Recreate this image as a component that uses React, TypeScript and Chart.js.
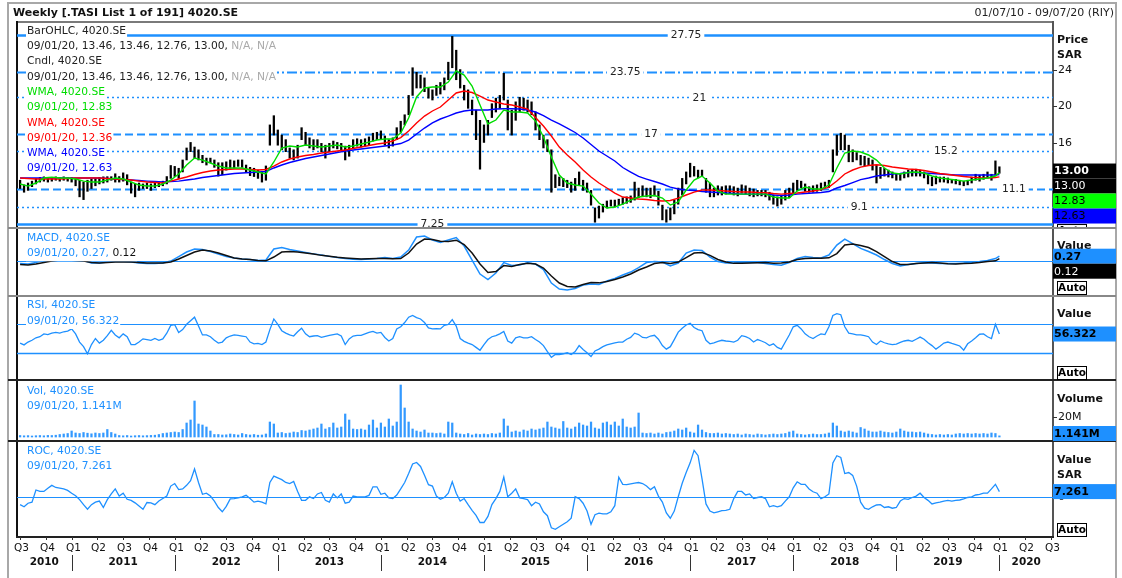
import React, { useEffect, useRef } from "react";
import { Chart, registerables } from "chart.js";

Chart.register(...registerables);

const FONT = '"DejaVu Sans", Verdana, sans-serif';
const BLUE = "#1e90ff";
const FAST_C = "#00dd00";
const MID_C = "#ff0000";
const SLOW_C = "#0000ff";

// ---------- texts / axis ----------
const TITLE = "Weekly [.TASI List 1 of 191] 4020.SE";
const RANGE_TEXT = "01/07/10 - 09/07/20 (RIY)";
const TICKER = "4020.SE";
const LAST_DATE = "09/01/20";
const QUARTER_LABELS = ["Q1", "Q2", "Q3", "Q4"];
const YEAR_LABELS = ["2010", "2011", "2012", "2013", "2014", "2015", "2016", "2017", "2018", "2019", "2020"];
const FIRST_BAR_YEAR = 2010.5; // first bi-weekly sample (Jul 2010)
const SAMPLES_PER_YEAR = 26;
const X_MIN = 2010.47;
const X_MAX = 2020.52;

// ---------- price (bi-weekly high / low) ----------
const PRICE_HIGH = [
  12.0, 11.5, 11.7, 11.9, 12.2, 12.3, 12.4, 12.3, 12.3, 12.4,
  12.3, 12.4, 12.3, 12.3, 12.2, 12.0, 11.8, 12.0, 12.1, 12.2,
  12.3, 12.4, 12.6, 13.0, 12.7, 12.4, 12.8, 12.6, 11.8, 11.6,
  11.7, 11.6, 11.7, 11.6, 11.7, 11.8, 11.9, 12.4, 13.6, 13.5,
  13.3, 14.2, 15.5, 16.1, 15.6, 15.3, 14.7, 14.4, 14.4, 14.2,
  13.9, 13.9, 14.0, 14.2, 14.1, 14.2, 14.2, 13.65, 13.4, 13.3,
  13.1, 12.9, 13.55, 18.0, 19.0, 17.45, 16.9, 16.4, 15.5, 15.3,
  15.8, 17.7, 17.2, 16.6, 16.4, 16.4, 16.0, 15.8, 16.0, 16.25,
  16.1, 16.0, 15.7, 15.8, 16.4, 16.5, 16.4, 16.5, 16.7, 17.1,
  17.2, 17.35, 16.8, 16.4, 16.6, 17.7, 18.4, 19.1, 21.2, 24.2,
  23.7, 23.4, 23.1, 22.0, 21.8, 22.3, 22.6, 23.1, 24.8, 27.6,
  26.1, 24.0, 22.3, 21.8, 20.7, 19.6, 18.5, 18.0, 18.5, 20.3,
  20.9, 21.2, 23.6, 20.7, 19.6, 20.5, 21.0, 20.9, 20.7, 20.5,
  19.4, 18.0, 16.9, 16.4, 15.3, 12.6, 12.35, 12.2, 12.0, 11.8,
  12.2, 12.9, 12.0, 11.7, 10.9, 9.0, 9.2, 9.4, 9.75, 9.85,
  9.85, 9.95, 10.1, 10.2, 10.3, 11.8, 11.15, 11.4, 11.15, 11.15,
  11.4, 10.8, 9.3, 8.8, 9.0, 9.85, 11.15, 12.2, 12.9, 13.85,
  13.5, 13.1, 13.1, 12.2, 11.7, 11.15, 11.4, 11.3, 11.4, 11.4,
  11.3, 11.15, 11.5, 11.4, 11.15, 11.05, 10.9, 10.9, 10.9, 10.7,
  10.4, 10.2, 10.3, 10.9, 11.15, 11.7, 12.0, 11.9, 11.6, 11.3,
  11.4, 11.5, 11.7, 11.8, 12.0, 15.3, 16.9, 17.1, 16.9, 15.8,
  15.3, 15.0, 14.7, 14.6, 14.4, 14.2, 13.65, 13.4, 13.3, 13.1,
  12.9, 12.65, 12.75, 12.9, 13.1, 13.1, 13.2, 13.1, 12.9, 12.55,
  12.35, 12.45, 12.35, 12.35, 12.25, 12.1, 12.1, 12.0, 11.9, 12.0,
  12.35, 12.65, 12.55, 12.65, 12.9, 12.65, 14.1, 13.46,
];
const PRICE_LOW = [
  11.1, 10.7, 10.9, 11.3, 11.6, 11.8, 11.9, 11.8, 11.9, 12.0,
  11.9, 12.0, 11.9, 11.8, 11.4, 10.2, 9.9, 10.8, 11.1, 11.4,
  11.6, 11.7, 11.8, 12.0, 11.8, 11.8, 11.9, 11.5, 10.6, 10.2,
  10.9, 11.1, 11.1, 10.9, 11.2, 11.3, 11.4, 11.6, 12.2, 12.4,
  12.2, 12.9, 14.2, 15.1, 14.4, 14.2, 13.9, 13.65, 13.9, 13.4,
  12.45, 12.6, 13.1, 13.3, 13.3, 13.5, 13.4, 12.9, 12.5, 12.4,
  12.2, 11.8, 12.0, 15.8, 16.9, 15.8, 15.3, 15.1, 14.4, 14.2,
  14.4, 16.4, 15.8, 15.5, 15.3, 15.5, 15.1, 14.4, 15.1, 15.5,
  15.4, 15.3, 14.2, 14.6, 15.5, 15.7, 15.6, 15.7, 15.8, 16.25,
  16.4, 16.5, 15.8, 15.5, 15.7, 16.4, 17.2, 18.0, 19.1, 21.2,
  22.0, 22.0, 21.6, 20.9, 20.7, 21.2, 21.35, 21.8, 22.9, 24.2,
  22.9, 22.0, 20.7, 19.8, 19.1, 16.4, 13.2, 16.1, 16.9, 18.8,
  19.4, 19.8, 20.7, 17.45, 16.9, 18.5, 19.4, 19.6, 19.4, 19.1,
  17.45, 16.4, 15.5, 15.1, 10.7, 11.2, 11.4, 11.3, 11.2, 10.7,
  10.9, 11.5, 10.9, 10.7, 9.3, 7.45, 7.9, 8.55, 9.0, 9.2,
  9.1, 9.3, 9.4, 9.5, 9.6, 9.85, 10.1, 10.3, 10.2, 10.1,
  10.3, 9.3, 7.7, 7.45, 7.7, 8.35, 9.4, 10.4, 11.6, 12.35,
  12.45, 12.25, 12.45, 10.7, 10.2, 10.2, 10.4, 10.4, 10.5, 10.6,
  10.4, 10.3, 10.6, 10.5, 10.3, 10.2, 10.3, 10.3, 10.2, 9.85,
  9.4, 9.2, 9.4, 9.85, 10.1, 10.5, 10.9, 11.2, 10.8, 10.7,
  10.7, 10.8, 10.9, 11.2, 11.2, 12.9, 14.7, 15.3, 15.3, 14.0,
  14.0, 14.2, 13.65, 13.55, 13.65, 13.1, 11.7, 12.2, 12.45, 12.35,
  12.25, 12.0, 12.0, 12.25, 12.35, 12.45, 12.45, 12.45, 12.25, 11.6,
  11.4, 11.6, 11.8, 11.8, 11.7, 11.7, 11.6, 11.5, 11.4, 11.5,
  11.7, 12.0, 11.9, 12.1, 12.25, 12.0, 12.55, 12.76,
];
const LAST_OHLC = [13.46, 13.46, 12.76, 13.0];

// ---------- weighted moving averages (4-weekly samples) ----------
const WMA_FAST = [
  11.59, 11.37, 11.70, 12.24, 12.35, 12.24, 12.24, 12.13, 11.91, 11.81,
  11.81, 12.02, 12.24, 12.13, 11.81, 11.48, 11.37, 11.37, 11.59, 12.02,
  12.68, 13.65, 14.41, 14.19, 13.87, 13.54, 13.33, 13.33, 13.33, 13.11,
  12.89, 12.68, 13.98, 15.49, 15.71, 15.60, 15.82, 15.71, 15.60, 15.71,
  15.82, 15.60, 15.71, 15.93, 16.14, 16.36, 16.47, 16.47, 17.12, 18.75,
  21.03, 22.00, 22.11, 22.11, 22.65, 23.85, 23.41, 22.22, 20.16, 18.10,
  18.53, 19.62, 19.40, 19.40, 19.29, 18.42, 16.69, 14.52, 12.57, 11.70,
  11.48, 11.37, 10.50, 9.53, 8.99, 9.10, 9.42, 9.85, 10.18, 10.29,
  10.34, 10.07, 9.31, 9.64, 10.94, 12.02, 12.46, 11.70, 10.83, 10.50,
  10.50, 10.50, 10.50, 10.50, 10.50, 10.18, 10.07, 10.07, 10.83, 11.26,
  11.05, 11.05, 11.48, 13.33, 14.95, 15.17, 15.06, 14.74, 14.19, 13.33,
  12.78, 12.68, 12.84, 12.89, 12.78, 12.46, 12.24, 12.13, 12.02, 11.91,
  12.02, 12.13, 12.24, 12.46, 12.83,
];
const WMA_MID = [
  12.24, 12.19, 12.13, 12.13, 12.13, 12.13, 12.19, 12.24, 12.24, 12.24,
  12.24, 12.19, 12.13, 12.08, 12.02, 11.91, 11.81, 11.75, 11.70, 11.91,
  12.13, 12.35, 12.62, 12.84, 13.00, 13.11, 13.17, 13.22, 13.22, 13.17,
  13.11, 13.17, 13.54, 13.98, 14.30, 14.52, 14.69, 14.79, 14.95, 15.06,
  15.17, 15.28, 15.44, 15.60, 15.77, 15.93, 16.04, 16.25, 16.63, 17.34,
  18.21, 18.96, 19.51, 19.94, 20.70, 21.46, 21.68, 21.51, 21.13, 20.70,
  20.48, 20.27, 20.16, 19.94, 19.72, 18.80, 17.88, 16.80, 15.60, 14.74,
  13.98, 13.11, 12.35, 11.70, 11.16, 10.61, 10.18, 10.07, 9.96, 9.91,
  9.80, 9.75, 9.80, 10.07, 10.40, 10.72, 10.94, 10.94, 10.89, 10.83,
  10.78, 10.72, 10.72, 10.67, 10.64, 10.56, 10.50, 10.56, 10.61, 10.72,
  10.83, 10.99, 11.26, 11.91, 12.68, 13.11, 13.43, 13.60, 13.68, 13.60,
  13.43, 13.33, 13.22, 13.17, 13.06, 12.89, 12.73, 12.62, 12.52, 12.41,
  12.32, 12.27, 12.24, 12.30, 12.36,
];
const WMA_SLOW = [
  12.24, 12.24, 12.24, 12.24, 12.24, 12.24, 12.24, 12.24, 12.24, 12.24,
  12.24, 12.19, 12.13, 12.08, 12.02, 11.97, 11.91, 11.86, 11.81, 11.86,
  11.91, 12.02, 12.13, 12.30, 12.41, 12.52, 12.62, 12.73, 12.78, 12.84,
  12.89, 12.95, 13.33, 13.65, 13.92, 14.14, 14.36, 14.52, 14.69, 14.85,
  15.01, 15.17, 15.28, 15.39, 15.49, 15.60, 15.71, 15.82, 15.98, 16.36,
  17.01, 17.66, 18.21, 18.64, 18.96, 19.29, 19.51, 19.62, 19.62, 19.62,
  19.72, 19.76, 19.76, 19.72, 19.62, 19.40, 19.00, 18.53, 18.10, 17.66,
  17.18, 16.58, 15.88, 15.17, 14.63, 14.09, 13.38, 12.89, 12.41, 12.13,
  11.86, 11.59, 11.26, 11.05, 10.94, 10.89, 10.78, 10.72, 10.67, 10.61,
  10.56, 10.50, 10.50, 10.50, 10.50, 10.40, 10.34, 10.40, 10.50, 10.56,
  10.61, 10.67, 10.78, 11.16, 11.43, 11.75, 12.07, 12.24, 12.46, 12.57,
  12.68, 12.73, 12.84, 12.84, 12.78, 12.73, 12.68, 12.62, 12.57, 12.57,
  12.57, 12.57, 12.57, 12.57, 12.63,
];

// ---------- MACD (4-weekly samples) ----------
const MACD_LINE = [
  -0.17, -0.20, -0.11, 0.04, 0.10, 0.13, 0.10, 0.07, 0.01, -0.14,
  -0.14, -0.08, -0.05, -0.05, -0.08, -0.14, -0.17, -0.17, -0.14, -0.02,
  0.25, 0.52, 0.70, 0.67, 0.55, 0.40, 0.25, 0.16, 0.10, 0.07,
  0.01, 0.04, 0.70, 0.79, 0.67, 0.58, 0.49, 0.41, 0.34, 0.26,
  0.19, 0.13, 0.09, 0.07, 0.10, 0.13, 0.19, 0.13, 0.22, 0.64,
  1.42, 1.48, 1.24, 1.09, 1.24, 1.39, 0.88, 0.04, -0.80, -1.13,
  -0.74, -0.11, -0.29, -0.26, -0.13, -0.20, -0.53, -1.34, -1.70, -1.76,
  -1.67, -1.46, -1.40, -1.43, -1.22, -1.07, -0.86, -0.68, -0.41, -0.11,
  -0.05, -0.08, -0.32, -0.14, 0.46, 0.64, 0.62, 0.22, -0.05, -0.14,
  -0.14, -0.11, -0.11, -0.11, -0.17, -0.23, -0.27, -0.11, 0.13, 0.25,
  0.19, 0.16, 0.34, 0.94, 1.30, 1.03, 0.74, 0.55, 0.34, 0.07,
  -0.17, -0.32, -0.23, -0.17, -0.13, -0.14, -0.17, -0.17, -0.17, -0.14,
  -0.09, -0.05, 0.01, 0.13, 0.27,
];
const MACD_SIGNAL = [
  -0.23, -0.26, -0.20, -0.11, -0.02, 0.04, 0.04, 0.01, -0.02, -0.11,
  -0.14, -0.11, -0.08, -0.08, -0.08, -0.11, -0.14, -0.14, -0.14, -0.08,
  0.10, 0.31, 0.52, 0.64, 0.58, 0.46, 0.31, 0.16, 0.10, 0.07,
  0.01, -0.01, 0.22, 0.52, 0.55, 0.52, 0.46, 0.40, 0.32, 0.26,
  0.20, 0.16, 0.13, 0.10, 0.11, 0.13, 0.13, 0.11, 0.13, 0.46,
  1.00, 1.30, 1.27, 1.17, 1.15, 1.23, 0.97, 0.46, -0.20, -0.71,
  -0.65, -0.29, -0.35, -0.23, -0.16, -0.20, -0.44, -0.92, -1.34, -1.55,
  -1.58, -1.43, -1.31, -1.33, -1.25, -1.13, -0.98, -0.80, -0.56, -0.38,
  -0.17, -0.11, -0.17, -0.08, 0.19, 0.46, 0.49, 0.32, 0.07, -0.08,
  -0.16, -0.16, -0.14, -0.13, -0.11, -0.15, -0.14, -0.08, 0.07, 0.13,
  0.15, 0.15, 0.17, 0.43, 0.94, 1.00, 0.91, 0.79, 0.55, 0.25,
  -0.05, -0.23, -0.23, -0.17, -0.14, -0.11, -0.14, -0.19, -0.20, -0.17,
  -0.15, -0.11, -0.05, -0.01, 0.12,
];

// ---------- RSI (bi-weekly) ----------
const RSI = [
  43.5, 41, 45, 47.5, 51, 52.5, 56.5, 55.5, 57.5, 58.5,
  57.5, 59.5, 60.5, 63.5, 56.5, 45, 38.5, 28.5, 41.5, 50,
  43.5, 47.5, 54, 61.5, 55, 51, 56.5, 52.5, 41.5, 41.5,
  45, 49.5, 48.5, 47.5, 50, 47.5, 49.5, 57.5, 68.5, 69.5,
  58.5, 62.5, 70, 75, 80, 67.5, 55, 55, 52.5, 47.5,
  43.5, 45, 51, 53.5, 55, 54.5, 53.5, 52.5, 45, 42.5,
  43, 41.5, 45, 62.5, 77.5, 70, 61, 57.5, 55, 53.5,
  59.5, 64.5, 56.5, 52.5, 53.5, 54, 51.5, 53, 54.5, 55.5,
  56.5, 53.5, 41.5, 49.5, 53.5, 54.5, 54.5, 56.5, 58.5, 60,
  57.5, 58.5, 51.5, 46.5, 50, 63.5, 66.5, 72.5, 80, 82.5,
  79.5, 77.5, 72.5, 65, 63.5, 64, 63.5, 68.5, 70, 76.5,
  67.5, 50, 46, 43.5, 41.5, 37.5, 33.5, 41.5, 48.5, 52.5,
  54, 56.5, 60, 46.5, 43.5, 51, 52.5, 51, 51, 52.5,
  48.5, 45, 40, 31.5, 23.5, 27.5, 27.5, 28.5, 30, 27.5,
  31.5, 40, 34.5, 30, 24.5, 32.5, 35, 38.5, 41, 42.5,
  44, 45, 45, 49, 51.5, 57.5, 55.5, 51.5, 51, 53.5,
  54.5, 49, 40, 35, 38.5, 48.5, 59, 64.5, 69, 71.5,
  65.5, 62.5, 61, 47.5, 42.5, 44, 46, 47.5, 46.5, 46,
  45, 47.5, 54, 52.5, 50, 45, 48.5, 46.5, 44, 40,
  42.5, 37.5, 35, 45, 55, 66.5, 68.5, 63.5, 56.5, 52.5,
  50, 53.5, 56.5, 55.5, 66.5, 82.5, 85, 83.5, 66.5, 57.5,
  56.5, 55, 55, 54, 52.5, 45, 41.5, 46.5, 44, 42.5,
  41.5, 42, 44.5, 46.5, 47.5, 46, 49, 52, 49, 44,
  40, 35, 39, 43.5, 45, 43, 41.5, 39.5, 33.5, 42.5,
  46.5, 51, 56, 56.5, 52.5, 50, 70, 56.322,
];
const RSI_BANDS = [70, 30];

// ---------- Volume, millions (bi-weekly) ----------
const VOLUME = [
  1.5, 1.2, 1.4, 1.0, 1.3, 1.5, 1.2, 1.6, 1.5, 1.8,
  2.5, 3.0, 3.5, 6.0, 4.0, 3.5, 4.5, 3.8, 3.2, 4.0,
  3.5, 4.0, 7.5, 4.5, 3.0, 1.5, 1.2, 1.5, 1.0, 1.3,
  1.5, 1.2, 1.4, 1.6, 1.8, 2.5, 3.5, 4.0, 4.5, 5.0,
  4.5, 7.5, 14, 17, 36, 13, 12, 10, 6.0, 2.5,
  2.5, 2.0, 2.2, 3.0, 2.5, 2.0, 3.5, 2.5, 2.0, 2.5,
  1.8, 2.0, 3.0, 15, 13, 4.0, 4.5, 3.5, 4.0, 5.0,
  4.5, 6.5, 6.0, 7.0, 8.0, 9.0, 13, 8.0, 9.5, 14,
  9.0, 10, 23, 17, 8.0, 7.5, 8.0, 7.0, 12, 17,
  9.0, 14, 10, 18, 11, 15, 52, 29, 15, 8.0,
  6.0, 5.0, 7.0, 4.0, 4.0, 3.5, 4.0, 3.0, 15, 14,
  4.0, 3.0, 2.5, 3.5, 2.0, 3.0, 2.5, 3.0, 2.5, 3.5,
  3.0, 4.0, 18, 11, 5.0, 6.0, 5.0, 7.0, 6.0, 8.0,
  7.0, 8.0, 9.0, 15, 10, 9.0, 8.0, 15.5, 9.0, 8.0,
  10, 14, 12, 11, 15, 9.0, 8.0, 14, 15, 12,
  15, 11, 18, 10, 9.0, 10, 24, 4.0, 3.5, 4.0,
  3.0, 4.0, 3.0, 4.5, 5.0, 6.0, 8.0, 7.0, 9.0, 5.0,
  4.0, 12, 7.0, 4.5, 3.5, 3.5, 4.0, 3.0, 3.5, 3.0,
  2.5, 3.0, 2.0, 3.0, 2.5, 2.0, 3.0, 2.5, 2.0, 2.5,
  3.0, 2.5, 3.0, 3.5, 5.0, 6.0, 3.0, 2.5, 2.0, 2.5,
  3.0, 2.5, 2.5, 3.0, 4.0, 14, 11, 6.0, 5.0, 6.0,
  5.0, 4.0, 9.5, 8.0, 6.0, 5.0, 5.0, 6.0, 5.0, 4.5,
  4.0, 5.0, 8.0, 6.0, 5.0, 5.0, 4.5, 5.0, 4.0, 3.0,
  2.5, 2.0, 2.5, 2.0, 2.5, 2.0, 3.0, 3.5, 3.0, 3.5,
  3.0, 3.5, 3.0, 3.5, 3.0, 4.0, 3.5, 1.141,
];
const VOLUME_TICKS = [20];

// ---------- ROC (bi-weekly) ----------
const ROC = [
  -11, -14, -9, -7.5, 9.5, 7.5, 7.5, 12, 16, 13,
  12, 11, 9, 5, 1.5, -4, -11, -17.5, -11, -7.5,
  -6, -15, -4, 4, 11, 1, 5, -3.5, -5, -8.5,
  -13, -17.5, -8, -8.5, -11, -6, -2.5, 1, 15, 18.5,
  10, 11, 16, 22.5, 39, 20, 3.5, 5, 1, -6,
  -15, -21, -13.5, -3, -2.5, -1.5, 0, 2, -2.5, -7.5,
  -6, -7.5, -10, 20, 29, 26.5, 24, 20, 18.5, 21.5,
  7.5, -5, -5, 0, -2.5, 4, 6, -5, -7.5, 4,
  -1.5, 4, -9, -7.5, 1, 0, 0, 0, 2, 14,
  14, 3.5, 5, -1.5, -2.5, 2.5, 11, 20, 32.5, 46,
  48, 42.5, 30, 17, 15, 1, -3.5, -1, 5, 21,
  5, -6, -2.5, -11, -19, -26, -36, -36, -27.5, -11,
  -2.5, 7.5, 27.5, 0, 5, 11, -1.5, -2.5, -4, -12.5,
  -7.5, -10, -21, -26.5, -43.5, -45.5, -42, -38.5, -35, -30,
  0, -2.5, -9, -20, -38.5, -25, -23, -24, -24, -21,
  -12.5, 27.5, 17.5, 17, 18, 19, 20, 18.5, 15, 10,
  14, 1, -7.5, -22.5, -30, -20, 0, 19, 34, 47.5,
  65, 57.5, 25, -10, -20, -22.5, -21, -19.5, -19, -17.5,
  -2.5, 7.5, 7.5, 2.5, 4, -2.5, -1, 0, -2.5, -14,
  -12.5, -14, -12.5, -6, 0, 12.5, 21, 17.5, 17.5, 11,
  7, 5, -2.5, 0, 4, 47.5, 57.5, 55, 32.5, 34,
  30, 15, -7.5, -16, -17.5, -14, -11.5, -11, -15, -14,
  -16, -15, -6, -2.5, -3.5, -1, 1, 5, -1, -5,
  -10, -8.5, -7.5, -6, -5, -6, -5, -4.5, -3, -1,
  0, 2.5, 3.5, 5, 5, 11, 17.5, 7.261,
];

// ---------- price levels ----------
const LEVELS = [27.75, 23.75, 21, 17, 15.2, 11.1, 9.1, 7.25];
const PRICE_TICKS = [24, 20, 16];

// ---------- styling config (not data) ----------
const LEVEL_DASHES = [[], [10, 3, 2, 3], [2, 3], [8, 4], [2, 3], [8, 4], [2, 3], []];
const LEVEL_WIDTHS = [2.5, 2, 1.5, 2, 1.5, 2, 1.5, 2.5];
const LEVEL_LABEL_AT = [2016.96, 2016.37, 2017.09, 2016.62, 2019.48, 2020.14, 2018.64, 2014.5];

const last = (a: number[]) => a[a.length - 1];
const biPoints = (arr: number[]) => arr.map((v, i) => ({ x: FIRST_BAR_YEAR + i / SAMPLES_PER_YEAR, y: v }));
const monthPoints = (arr: number[]) =>
  arr.map((v, j) => ({ x: FIRST_BAR_YEAR + Math.min(2 * j, PRICE_HIGH.length - 1) / SAMPLES_PER_YEAR, y: v }));

function baseOptions(yMin: number, yMax: number, padTop: number, padBottom: number): any {
  return {
    responsive: false,
    animation: false,
    devicePixelRatio: 1,
    events: [],
    layout: { padding: { left: 17, right: 69, top: padTop, bottom: padBottom } },
    plugins: { legend: { display: false }, tooltip: { enabled: false }, title: { display: false } },
    scales: {
      x: { type: "linear", min: X_MIN, max: X_MAX, display: false, offset: false },
      y: { type: "linear", min: yMin, max: yMax, display: false },
    },
  };
}

type Seg = { t: string; c: string };

function legendPlugin(lines: Seg[][], y0: number, dy: number) {
  return {
    id: "legendText",
    afterDatasetsDraw(chart: any) {
      const ctx = chart.ctx;
      ctx.save();
      ctx.font = `10.7px ${FONT}`;
      ctx.textBaseline = "middle";
      ctx.textAlign = "left";
      lines.forEach((segs, k) => {
        const y = y0 + k * dy;
        let x = 27;
        const total = segs.reduce((s, sg) => s + ctx.measureText(sg.t).width, 0);
        ctx.fillStyle = "#fff";
        ctx.fillRect(x - 1, y - dy / 2, total + 2, dy);
        segs.forEach((sg) => {
          ctx.fillStyle = sg.c;
          ctx.fillText(sg.t, x, y);
          x += ctx.measureText(sg.t).width;
        });
      });
      ctx.restore();
    },
  };
}

function hLinesPlugin(values: number[], widths: number[]) {
  return {
    id: "hLines",
    beforeDatasetsDraw(chart: any) {
      const { ctx, chartArea } = chart;
      const ys = chart.scales.y;
      ctx.save();
      ctx.strokeStyle = BLUE;
      values.forEach((v, k) => {
        const y = Math.round(ys.getPixelForValue(v)) + 0.5;
        ctx.lineWidth = widths[k];
        ctx.beginPath();
        ctx.moveTo(chartArea.left, y);
        ctx.lineTo(chartArea.right, y);
        ctx.stroke();
      });
      ctx.restore();
    },
  };
}

type Box = { value: number; text: string; bg: string; fg: string; bold: boolean };
type RightCfg = { titles: string[]; ticks: { value: number; label: string }[]; boxes: Box[]; auto: string };

function rightPlugin(cfg: RightCfg) {
  return {
    id: "rightAxis",
    afterDraw(chart: any) {
      const { ctx, chartArea } = chart;
      const ys = chart.scales.y;
      const X0 = chartArea.right;
      ctx.save();
      ctx.textBaseline = "middle";
      ctx.textAlign = "left";
      ctx.fillStyle = "#111";
      ctx.font = `bold 11px ${FONT}`;
      cfg.titles.forEach((t, k) => ctx.fillText(t, X0 + 4, chartArea.top + 18 + k * 15.5));
      ctx.font = `11px ${FONT}`;
      ctx.strokeStyle = "#333";
      ctx.lineWidth = 1;
      cfg.ticks.forEach((tk) => {
        const y = Math.round(ys.getPixelForValue(tk.value)) + 0.5;
        ctx.beginPath();
        ctx.moveTo(X0, y);
        ctx.lineTo(X0 + 4, y);
        ctx.stroke();
        ctx.fillStyle = "#111";
        ctx.fillText(tk.label, X0 + 5, y);
      });
      let cursor = -Infinity;
      cfg.boxes.forEach((b) => {
        let y0 = ys.getPixelForValue(b.value) - 7.5;
        if (y0 < cursor) y0 = cursor;
        if (y0 + 15 > chartArea.bottom) y0 = chartArea.bottom - 15;
        ctx.fillStyle = b.bg;
        ctx.fillRect(X0, y0, 63, 15);
        ctx.fillStyle = b.fg;
        ctx.font = `${b.bold ? "bold " : ""}11px ${FONT}`;
        ctx.fillText(b.text, X0 + 1, y0 + 8);
        cursor = y0 + 15;
      });
      if (cfg.auto !== "none") {
        const y0 = cfg.auto === "stack" ? cursor + 0.5 : chartArea.bottom - 14;
        ctx.fillStyle = "#fff";
        ctx.fillRect(X0 + 4.5, y0, 29, 13);
        ctx.strokeStyle = "#000";
        ctx.strokeRect(X0 + 4.5, y0 + 0.5, 29, 13);
        ctx.fillStyle = "#000";
        ctx.font = `bold 10.5px ${FONT}`;
        ctx.textAlign = "center";
        ctx.fillText("Auto", X0 + 19, y0 + 7.5);
      }
      ctx.restore();
    },
  };
}

const levelsPlugin = {
  id: "levels",
  beforeDatasetsDraw(chart: any) {
    const { ctx, chartArea } = chart;
    const xs = chart.scales.x;
    const ys = chart.scales.y;
    ctx.save();
    ctx.beginPath();
    ctx.rect(chartArea.left, chartArea.top, chartArea.right - chartArea.left, chartArea.bottom - chartArea.top);
    ctx.clip();
    ctx.strokeStyle = BLUE;
    LEVELS.forEach((lv, k) => {
      const y = Math.round(ys.getPixelForValue(lv)) + 0.5;
      ctx.lineWidth = LEVEL_WIDTHS[k];
      ctx.setLineDash(LEVEL_DASHES[k]);
      ctx.beginPath();
      ctx.moveTo(chartArea.left, y);
      ctx.lineTo(chartArea.right, y);
      ctx.stroke();
    });
    ctx.setLineDash([]);
    ctx.font = `10.7px ${FONT}`;
    ctx.textAlign = "center";
    ctx.textBaseline = "middle";
    LEVELS.forEach((lv, k) => {
      const y = ys.getPixelForValue(lv);
      const x = xs.getPixelForValue(LEVEL_LABEL_AT[k]);
      const t = String(lv);
      const w = ctx.measureText(t).width;
      ctx.fillStyle = "#fff";
      ctx.fillRect(x - w / 2 - 3, y - 6, w + 6, 12);
      ctx.fillStyle = "#222";
      ctx.fillText(t, x, y + 0.5);
    });
    ctx.restore();
  },
};

const titlePlugin = {
  id: "titleText",
  afterDraw(chart: any) {
    const ctx = chart.ctx;
    ctx.save();
    ctx.textBaseline = "middle";
    ctx.fillStyle = "#111";
    ctx.font = `bold 11px ${FONT}`;
    ctx.textAlign = "left";
    ctx.fillText(TITLE, 13, 13);
    ctx.font = `11px ${FONT}`;
    ctx.textAlign = "right";
    ctx.fillStyle = "#222";
    ctx.fillText(RANGE_TEXT, 1114, 13);
    ctx.restore();
  },
};

const timeAxisPlugin = {
  id: "timeAxis",
  afterDraw(chart: any) {
    const { ctx, chartArea } = chart;
    const xs = chart.scales.x;
    const b = chartArea.bottom;
    ctx.save();
    ctx.strokeStyle = "#333";
    ctx.fillStyle = "#111";
    ctx.lineWidth = 1;
    ctx.textAlign = "center";
    ctx.textBaseline = "middle";
    ctx.font = `10.5px ${FONT}`;
    const firstYear = Number(YEAR_LABELS[0]);
    YEAR_LABELS.forEach((_, yi) => {
      const year = firstYear + yi;
      QUARTER_LABELS.forEach((ql, qi) => {
        const v = year + qi * 0.25;
        if (v < X_MIN || v > X_MAX) return;
        const x = Math.round(xs.getPixelForValue(v)) + 0.5;
        ctx.beginPath();
        ctx.moveTo(x, b);
        ctx.lineTo(x, b + 3);
        ctx.stroke();
        ctx.fillText(ql, x + 1, b + 11);
      });
    });
    ctx.font = `bold 10.5px ${FONT}`;
    YEAR_LABELS.forEach((ys, yi) => {
      const year = firstYear + yi;
      const a = Math.max(X_MIN, year);
      const e = Math.min(X_MAX, year + 1);
      const xc = (xs.getPixelForValue(a) + xs.getPixelForValue(e)) / 2;
      ctx.fillText(ys, xc, b + 25);
      if (year > X_MIN) {
        const x = Math.round(xs.getPixelForValue(year)) + 0.5;
        ctx.beginPath();
        ctx.moveTo(x, b + 18);
        ctx.lineTo(x, b + 34);
        ctx.stroke();
      }
    });
    ctx.restore();
  },
};

const lineDs = (data: any[], color: string, width: number, order: number) => ({
  type: "line",
  data,
  borderColor: color,
  borderWidth: width,
  pointRadius: 0,
  fill: false,
  tension: 0,
  order,
});

function priceConfig(): any {
  const bars = PRICE_HIGH.map((h, i) => ({ x: FIRST_BAR_YEAR + i / SAMPLES_PER_YEAR, y: [PRICE_LOW[i], h] }));
  const ohlc = LAST_OHLC.map((v) => v.toFixed(2)).join(", ");
  const legend: Seg[][] = [
    [{ t: `BarOHLC, ${TICKER}`, c: "#222" }],
    [{ t: `${LAST_DATE}, ${ohlc}, `, c: "#222" }, { t: "N/A, N/A", c: "#aaa" }],
    [{ t: `Cndl, ${TICKER}`, c: "#222" }],
    [{ t: `${LAST_DATE}, ${ohlc}, `, c: "#222" }, { t: "N/A, N/A", c: "#aaa" }],
    [{ t: `WMA, ${TICKER}`, c: FAST_C }],
    [{ t: `${LAST_DATE}, ${last(WMA_FAST).toFixed(2)}`, c: FAST_C }],
    [{ t: `WMA, ${TICKER}`, c: MID_C }],
    [{ t: `${LAST_DATE}, ${last(WMA_MID).toFixed(2)}`, c: MID_C }],
    [{ t: `WMA, ${TICKER}`, c: SLOW_C }],
    [{ t: `${LAST_DATE}, ${last(WMA_SLOW).toFixed(2)}`, c: SLOW_C }],
  ];
  return {
    type: "bar",
    data: {
      datasets: [
        lineDs(monthPoints(WMA_FAST), FAST_C, 1.4, 0),
        lineDs(monthPoints(WMA_MID), MID_C, 1.4, 1),
        lineDs(monthPoints(WMA_SLOW), SLOW_C, 1.4, 2),
        { type: "bar", data: bars, backgroundColor: "#000", barThickness: 1.6, order: 3 },
      ],
    },
    options: baseOptions(6.93, 29.16, 22, 0),
    plugins: [
      levelsPlugin,
      legendPlugin(legend, 31, 15.3),
      rightPlugin({
        titles: ["Price", "SAR"],
        ticks: PRICE_TICKS.map((v) => ({ value: v, label: String(v) })),
        boxes: [
          { value: LAST_OHLC[3], text: LAST_OHLC[3].toFixed(2), bg: "#000", fg: "#fff", bold: true },
          { value: LAST_OHLC[3], text: LAST_OHLC[3].toFixed(2), bg: "#000", fg: "#fff", bold: false },
          { value: last(WMA_FAST), text: last(WMA_FAST).toFixed(2), bg: "#00ff00", fg: "#000", bold: false },
          { value: last(WMA_SLOW), text: last(WMA_SLOW).toFixed(2), bg: "#0000ff", fg: "#000", bold: false },
        ],
        auto: "stack",
      }),
      titlePlugin,
    ],
  };
}

function macdConfig(): any {
  const legend: Seg[][] = [
    [{ t: `MACD, ${TICKER}`, c: BLUE }],
    [
      { t: `${LAST_DATE}, ${last(MACD_LINE).toFixed(2)}, `, c: BLUE },
      { t: last(MACD_SIGNAL).toFixed(2), c: "#111" },
    ],
  ];
  return {
    type: "line",
    data: {
      datasets: [
        lineDs(monthPoints(MACD_LINE), BLUE, 1.5, 1),
        lineDs(monthPoints(MACD_SIGNAL), "#111", 1.5, 0),
      ],
    },
    options: baseOptions(-2.058, 1.962, 0, 0),
    plugins: [
      hLinesPlugin([0], [1]),
      legendPlugin(legend, 10, 15.5),
      rightPlugin({
        titles: ["Value"],
        ticks: [],
        boxes: [
          { value: last(MACD_LINE), text: last(MACD_LINE).toFixed(2), bg: BLUE, fg: "#000", bold: true },
          { value: last(MACD_SIGNAL), text: last(MACD_SIGNAL).toFixed(2), bg: "#000", fg: "#fff", bold: false },
        ],
        auto: "bottom",
      }),
    ],
  };
}

function rsiConfig(): any {
  const legend: Seg[][] = [
    [{ t: `RSI, ${TICKER}`, c: BLUE }],
    [{ t: `${LAST_DATE}, ${last(RSI).toFixed(3)}`, c: BLUE }],
  ];
  return {
    type: "line",
    data: { datasets: [lineDs(biPoints(RSI), BLUE, 1.3, 0)] },
    options: baseOptions(-8.45, 109.86, 0, 0),
    plugins: [
      hLinesPlugin(RSI_BANDS, [1, 1.5]),
      legendPlugin(legend, 9, 16),
      rightPlugin({
        titles: ["Value"],
        ticks: [],
        boxes: [{ value: last(RSI), text: last(RSI).toFixed(3), bg: BLUE, fg: "#000", bold: true }],
        auto: "bottom",
      }),
    ],
  };
}

function volConfig(): any {
  const legend: Seg[][] = [
    [{ t: `Vol, ${TICKER}`, c: BLUE }],
    [{ t: `${LAST_DATE}, ${last(VOLUME).toFixed(3)}M`, c: BLUE }],
  ];
  return {
    type: "bar",
    data: {
      datasets: [{ type: "bar", data: biPoints(VOLUME), backgroundColor: "#3399ff", barThickness: 1.6 }],
    },
    options: baseOptions(-4, 56, 0, 0),
    plugins: [
      legendPlugin(legend, 10, 15),
      rightPlugin({
        titles: ["Volume"],
        ticks: VOLUME_TICKS.map((v) => ({ value: v, label: `${v}M` })),
        boxes: [{ value: last(VOLUME), text: `${last(VOLUME).toFixed(3)}M`, bg: BLUE, fg: "#000", bold: true }],
        auto: "none",
      }),
    ],
  };
}

function rocConfig(): any {
  const legend: Seg[][] = [
    [{ t: `ROC, ${TICKER}`, c: BLUE }],
    [{ t: `${LAST_DATE}, ${last(ROC).toFixed(3)}`, c: BLUE }],
  ];
  return {
    type: "line",
    data: { datasets: [lineDs(biPoints(ROC), BLUE, 1.3, 0)] },
    options: baseOptions(-56.3, 76.7, 0, 41),
    plugins: [
      hLinesPlugin([0], [1]),
      legendPlugin(legend, 9, 15.5),
      rightPlugin({
        titles: ["Value", "SAR"],
        ticks: [{ value: 0, label: "0" }],
        boxes: [{ value: last(ROC), text: last(ROC).toFixed(3), bg: BLUE, fg: "#000", bold: true }],
        auto: "bottom",
      }),
      timeAxisPlugin,
    ],
  };
}

const line = (left: number, top: number, width: number, height: number, bg: string, key: string) => (
  <div key={key} style={{ position: "absolute", left, top, width, height, background: bg }} />
);

export default function App() {
  const priceRef = useRef<HTMLCanvasElement>(null);
  const macdRef = useRef<HTMLCanvasElement>(null);
  const rsiRef = useRef<HTMLCanvasElement>(null);
  const volRef = useRef<HTMLCanvasElement>(null);
  const rocRef = useRef<HTMLCanvasElement>(null);

  useEffect(() => {
    const charts: Chart[] = [];
    const pairs: [any, () => any][] = [
      [priceRef, priceConfig],
      [macdRef, macdConfig],
      [rsiRef, rsiConfig],
      [volRef, volConfig],
      [rocRef, rocConfig],
    ];
    pairs.forEach(([ref, cfg]) => {
      if (ref.current) charts.push(new Chart(ref.current, cfg()));
    });
    return () => charts.forEach((c) => c.destroy());
  }, []);

  const canvasStyle = (top: number, height: number): any => ({
    position: "absolute",
    left: 0,
    top,
    width: 1122,
    height,
  });

  return (
    <div
      style={{
        position: "fixed",
        left: 0,
        top: 0,
        width: 1122,
        height: 578,
        background: "#fff",
        overflow: "hidden",
      }}
    >
      {line(7, 2, 1110, 2, "#a8a8a8", "ot")}
      {line(7, 2, 2, 576, "#a8a8a8", "ol")}
      {line(1115, 2, 2, 576, "#a8a8a8", "or")}
      {line(17, 21, 1037, 2, "#7a7a7a", "pt")}
      {line(16, 21, 2, 517, "#111", "pl")}
      {line(1052, 21, 2, 517, "#555", "pr")}
      {line(8, 227, 1108, 2, "#888", "s1")}
      {line(8, 295, 1108, 2, "#888", "s2")}
      {line(8, 379, 1108, 2, "#222", "s3")}
      {line(8, 440, 1108, 2, "#222", "s4")}
      {line(16, 536, 1038, 2, "#222", "s5")}
      <canvas ref={priceRef} width={1122} height={227} style={canvasStyle(0, 227)} />
      <canvas ref={macdRef} width={1122} height={67} style={canvasStyle(228, 67)} />
      <canvas ref={rsiRef} width={1122} height={84} style={canvasStyle(296, 84)} />
      <canvas ref={volRef} width={1122} height={60} style={canvasStyle(381, 60)} />
      <canvas ref={rocRef} width={1122} height={136} style={canvasStyle(442, 136)} />
    </div>
  );
}
